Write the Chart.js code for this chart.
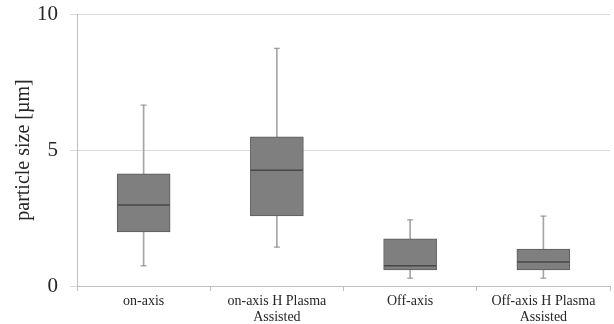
<!DOCTYPE html>
<html>
<head>
<meta charset="utf-8">
<script src="https://cdn.jsdelivr.net/npm/chart.js@4"></script>
<style>
  html, body { margin: 0; padding: 0; background: #fff; }
  #wrap { width: 614px; height: 324px; position: relative; }
</style>
</head>
<body>
<div id="wrap"><canvas id="box"></canvas></div>
<script>
// particle size per deposition mode (µm)
const categories = [
    'on-axis',
    ['on-axis H Plasma', 'Assisted'],
    'Off-axis',
    ['Off-axis H Plasma', 'Assisted'],
];
const mins    = [0.74, 1.43, 0.29, 0.29];
const q1s     = [1.99, 2.58, 0.59, 0.59];
const medians = [2.98, 4.26, 0.74, 0.88];
const q3s     = [4.12, 5.48, 1.73, 1.36];
const maxs    = [6.65, 8.74, 2.43, 2.57];
const yTicks  = [0, 5, 10];

const serif = 'Liberation Serif';

new Chart(document.getElementById('box').getContext('2d'), {
    type: 'bar',
    data: {
        labels: categories,
        datasets: [
            // whiskers: thin floating bars from min to max
            { data: mins.map((m, i) => [m, maxs[i]]), backgroundColor: '#a6a6a6', barThickness: 1, grouped: false, order: 3 },
            // boxes Q1..Q3
            { data: q1s.map((q, i) => [q, q3s[i]]), backgroundColor: '#7f7f7f', borderColor: '#5a5a5a', borderWidth: 1, borderSkipped: false, barThickness: 53, grouped: false, order: 2 },
            // medians
            { type: 'line', data: medians, showLine: false, pointStyle: 'line', pointRadius: 26, pointHoverRadius: 26, borderColor: '#474747', borderWidth: 1.5, order: 1 },
            // whisker caps
            { type: 'line', data: mins, showLine: false, pointStyle: 'line', pointRadius: 3, pointHoverRadius: 3, borderColor: '#8c8c8c', borderWidth: 1, order: 1 },
            { type: 'line', data: maxs, showLine: false, pointStyle: 'line', pointRadius: 3, pointHoverRadius: 3, borderColor: '#8c8c8c', borderWidth: 1, order: 1 },
        ],
    },
    options: {
        responsive: true,
        maintainAspectRatio: false,
        animation: false,
        layout: { autoPadding: false, padding: { top: 14, right: 4, left: 0, bottom: 0 } },
        plugins: { legend: { display: false }, tooltip: { enabled: false } },
        scales: {
            x: {
                offset: true,
                grid: { offset: true, drawOnChartArea: false, tickLength: 5, color: '#bfbfbf' },
                border: { color: '#bfbfbf' },
                ticks: { color: '#262626', font: { family: serif, size: 14, lineHeight: 1.15 }, padding: 2, maxRotation: 0, autoSkip: false },
                afterFit: s => { s.height = 38; s.paddingLeft = 0; s.paddingRight = 0; },
            },
            y: {
                min: 0, max: 10,
                afterBuildTicks: s => { s.ticks = yTicks.map(v => ({ value: v })); },
                grid: { color: '#d9d9d9', tickLength: 7 },
                border: { color: '#bfbfbf' },
                ticks: { color: '#262626', font: { family: serif, size: 21 }, padding: 12 },
                title: { display: true, text: 'particle size [µm]', color: '#262626', font: { family: serif, size: 20 }, padding: { top: 12, bottom: 0 } },
                afterFit: s => { s.width = 77; s.paddingTop = 0; s.paddingBottom = 0; },
            },
        },
    },
});
</script>
</body>
</html>
